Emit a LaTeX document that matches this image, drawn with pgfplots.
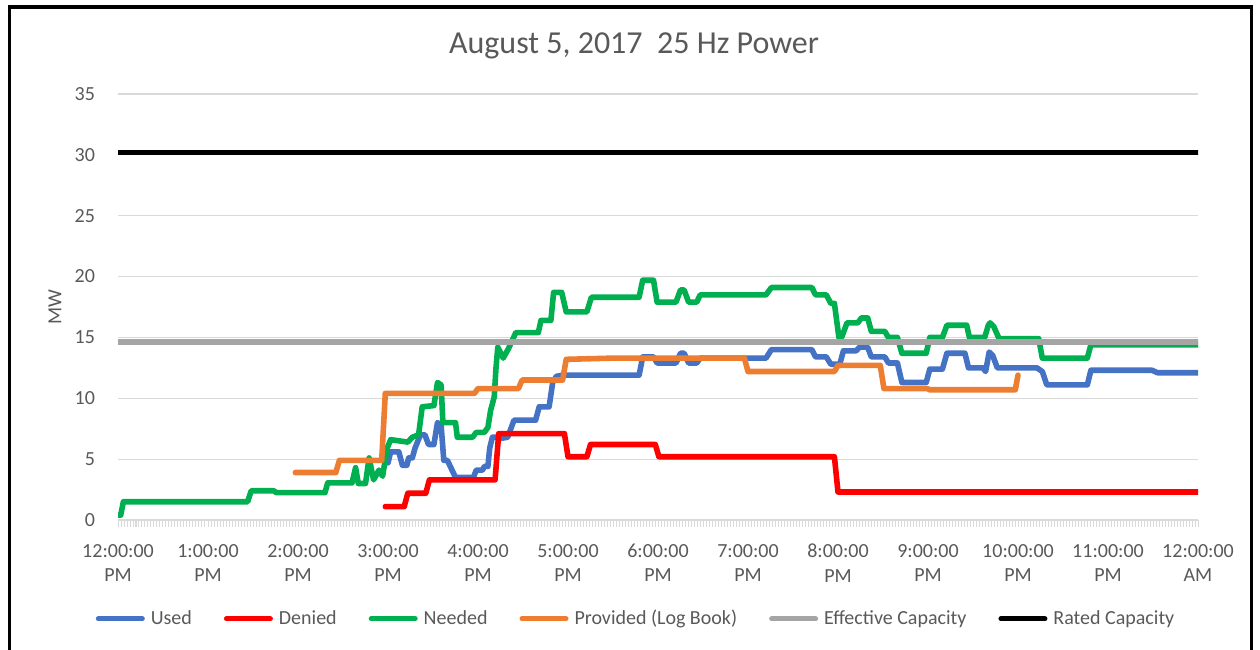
\documentclass[border=0pt]{standalone}
\usepackage{fontspec}
\setmainfont{Carlito}
\usepackage{pgfplots}
\pgfplotsset{compat=1.18}
\definecolor{cUsed}{HTML}{4472C4}
\definecolor{cDenied}{HTML}{FF0000}
\definecolor{cNeeded}{HTML}{00B050}
\definecolor{cProv}{HTML}{ED7D31}
\definecolor{cEff}{HTML}{A5A5A5}
\definecolor{txt}{HTML}{595959}
\definecolor{gridc}{HTML}{D9D9D9}
\begin{document}
\begin{tikzpicture}
\useasboundingbox (-59pt,-64.5pt) rectangle (571pt,260pt);
\begin{axis}[
  at={(0pt,0pt)}, anchor=south west,
  scale only axis, width=540pt, height=213pt,
  xmin=0, xmax=12, ymin=0, ymax=35,
  axis x line*=bottom, axis y line*=left,
  x axis line style={draw=gridc, line width=0.8pt, -},
  y axis line style={draw=none},
  ytick={0,5,...,35},
  xtick={0,...,12},
  xticklabels={{12:00:00\\PM},{1:00:00\\PM},{2:00:00\\PM},{3:00:00\\PM},{4:00:00\\PM},{5:00:00\\PM},{6:00:00\\PM},{7:00:00\\PM},{8:00:00\\PM},{9:00:00\\PM},{10:00:00\\PM},{11:00:00\\PM},{12:00:00\\AM}},
  minor x tick num=29,
  tick align=outside,
  major tick length=3.5pt, minor tick length=3.5pt,
  xtick style={draw=gridc, line width=0.5pt},
  minor x tick style={draw=gridc, line width=0.5pt},
  ytick style={draw=none},
  ymajorgrids, grid style={draw=gridc, line width=0.6pt},
  /pgf/number format/assume math mode=true,
  ticklabel style={font=\fontsize{10}{12.2}\selectfont, text=txt},
  xticklabel style={align=center, anchor=north, yshift=-5pt},
  yticklabel style={anchor=east, xshift=-4.5pt},
  ylabel={MW},
  ylabel style={at={(axis description cs:-0.0583,0.5)}, anchor=center, font=\fontsize{10}{12}\selectfont, text=txt},
  legend columns=6,
  legend style={draw=none, fill=none, at={(axis description cs:0.4806,-0.232)}, anchor=center,
    font=\fontsize{10}{12}\selectfont, text=txt,
    /tikz/every even column/.append style={column sep=14pt},
    /tikz/every odd column/.append style={column sep=1pt}},
  legend image code/.code={\draw[#1, line width=2.5pt, line cap=round] (0pt,0pt) -- (22pt,0pt);},
  every axis plot/.append style={line width=2.8pt, line join=round, line cap=round},
]
% Used
\addplot[cUsed] coordinates {
(2.97,4.7)(3.00,4.7)(3.03,5.6)(3.12,5.6)(3.16,4.5)(3.21,4.5)(3.23,5.1)(3.27,5.1)(3.30,5.9)(3.36,7.0)(3.41,7.0)(3.45,6.2)(3.51,6.2)(3.55,8.0)(3.59,7.8)(3.62,4.9)(3.66,4.9)(3.75,3.5)(3.95,3.5)(3.98,4.1)(4.05,4.1)(4.07,4.4)(4.11,4.4)(4.13,5.9)(4.16,6.8)(4.22,6.8)(4.25,6.7)(4.33,6.8)(4.40,8.2)(4.64,8.2)(4.68,9.3)(4.79,9.3)(4.83,11.3)(4.87,11.8)(4.94,11.9)(5.79,11.9)(5.83,13.4)(5.95,13.4)(5.99,12.9)(6.20,12.9)(6.25,13.7)(6.29,13.7)(6.34,12.9)(6.43,12.9)(6.47,13.3)(7.20,13.3)(7.26,14.0)(7.71,14.0)(7.75,13.4)(7.87,13.4)(7.92,12.8)(8.02,12.8)(8.06,13.9)(8.20,13.9)(8.24,14.2)(8.33,14.2)(8.37,13.4)(8.52,13.4)(8.56,12.9)(8.66,12.9)(8.71,11.3)(8.98,11.3)(9.02,12.4)(9.16,12.4)(9.21,13.7)(9.41,13.7)(9.45,12.5)(9.61,12.5)(9.64,12.2)(9.68,13.8)(9.72,13.5)(9.77,12.5)(10.21,12.5)(10.27,12.2)(10.32,11.1)(10.77,11.1)(10.81,12.3)(11.49,12.3)(11.55,12.1)(12.0,12.1)
};
\addlegendentry{Used}
% Denied
\addplot[cDenied] coordinates {
(2.97,1.1)(3.18,1.1)(3.22,2.2)(3.42,2.2)(3.46,3.3)(4.19,3.3)(4.23,7.1)(4.96,7.1)(5.00,5.2)(5.21,5.2)(5.25,6.2)(5.97,6.2)(6.01,5.2)(7.96,5.2)(8.00,2.3)(12.0,2.3)
};
\addlegendentry{Denied}
% Needed
\addplot[cNeeded] coordinates {
(0,0.4)(0.03,0.4)(0.06,1.5)(1.44,1.5)(1.48,2.4)(1.73,2.4)(1.76,2.25)(2.30,2.25)(2.33,3.05)(2.60,3.05)(2.64,4.3)(2.67,3.0)(2.75,3.0)(2.79,5.1)(2.84,3.3)(2.90,4.1)(2.94,3.6)(2.99,5.9)(3.03,6.6)(3.22,6.4)(3.27,6.8)(3.34,7.0)(3.38,9.3)(3.51,9.4)(3.55,11.3)(3.59,11.1)(3.61,8.0)(3.75,8.0)(3.77,6.8)(3.94,6.8)(3.98,7.2)(4.07,7.2)(4.11,7.6)(4.14,9.0)(4.18,10.1)(4.20,12.5)(4.22,14.2)(4.28,13.3)(4.34,14.1)(4.42,15.4)(4.67,15.4)(4.70,16.4)(4.81,16.4)(4.84,18.7)(4.93,18.7)(4.98,17.1)(5.21,17.1)(5.26,18.3)(5.79,18.3)(5.83,19.7)(5.95,19.7)(5.99,17.9)(6.20,17.9)(6.25,18.9)(6.29,18.9)(6.34,17.9)(6.43,17.9)(6.47,18.5)(7.20,18.5)(7.26,19.1)(7.71,19.1)(7.75,18.5)(7.87,18.5)(7.92,17.8)(7.96,17.8)(8.01,15.0)(8.04,15.0)(8.10,16.2)(8.22,16.2)(8.26,16.6)(8.33,16.6)(8.37,15.5)(8.52,15.5)(8.56,15.0)(8.66,15.0)(8.71,13.7)(8.98,13.7)(9.02,15.0)(9.16,15.0)(9.21,16.0)(9.43,16.0)(9.46,15.0)(9.63,15.0)(9.67,16.0)(9.69,16.2)(9.73,15.9)(9.79,14.9)(10.23,14.9)(10.27,13.3)(10.77,13.3)(10.81,14.4)(12.0,14.4)
};
\addlegendentry{Needed}
% Provided (Log Book)
\addplot[cProv] coordinates {
(1.97,3.9)(2.42,3.9)(2.46,4.9)(2.93,4.9)(2.97,10.4)(3.96,10.4)(4.00,10.8)(4.45,10.8)(4.49,11.5)(4.94,11.5)(4.98,13.2)(5.50,13.3)(6.96,13.3)(7.00,12.2)(7.96,12.2)(8.00,12.7)(8.47,12.7)(8.51,10.8)(8.99,10.8)(9.02,10.7)(9.97,10.7)(10.00,11.9)
};
\addlegendentry{Provided (Log Book)}
% Effective Capacity
\addplot[cEff] coordinates {(0,14.6)(12,14.6)};
\addlegendentry{Effective Capacity}
% Rated Capacity
\addplot[black] coordinates {(0,30.2)(12,30.2)};
\addlegendentry{Rated Capacity}
\end{axis}
\node[text=txt, font=\fontsize{16}{19}\selectfont] at (258pt,237pt) {August 5, 2017\ \ 25 Hz Power};
\draw[black, line width=1.6pt] (-54.25pt,-70pt) -- (-54.25pt,256.5pt) -- (566.75pt,256.5pt) -- (566.75pt,-70pt);
\end{tikzpicture}
\end{document}
